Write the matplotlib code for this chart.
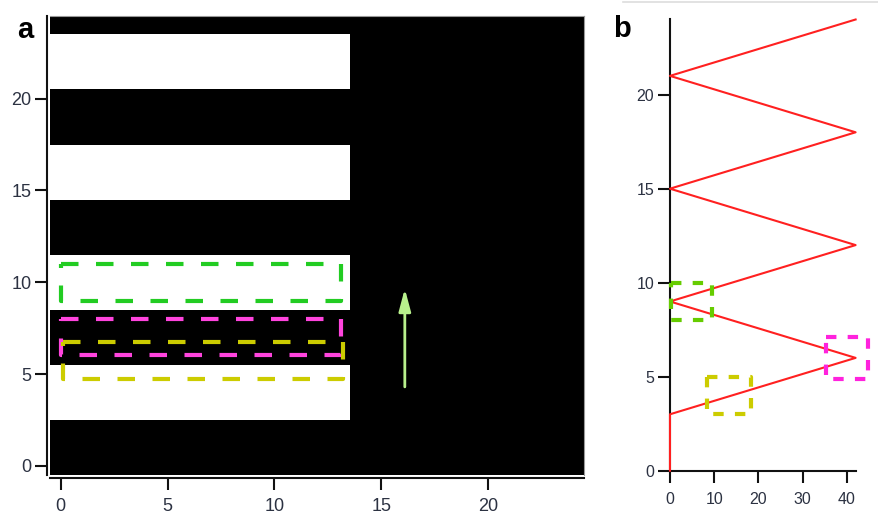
import numpy as np
import matplotlib
matplotlib.use("Agg")
import matplotlib.pyplot as plt
from matplotlib.lines import Line2D

plt.rcParams["font.family"] = ["Liberation Sans", "DejaVu Sans"]

# ── Data ─────────────────────────────────────────────────────────────────────
GRID_N = 25                                   # 25 x 25 pixel pattern
white_rows = [3, 4, 5, 9, 10, 11, 15, 16, 17, 21, 22, 23]
stripe_cols = 14                              # white stripes span columns 0..13

scan_x = [0, 0, 42, 0, 42, 0, 42, 0, 42]
scan_y = [0, 3, 6, 9, 12, 15, 18, 21, 24]

# dashed regions (x0, y0, x1, y1, colour)
boxes_a = [
    (0.0, 9.0, 13.1, 11.0, "#22CC22"),
    (0.0, 6.05, 13.1, 8.0, "#FF44DD"),
    (0.1, 4.75, 13.2, 6.75, "#CCCC00"),
]
boxes_b = [
    (0.2, 8.0, 9.5, 10.0, "#66CC00"),
    (8.3, 3.0, 18.3, 5.0, "#CCCC00"),
    (35.4, 4.9, 44.9, 7.1, "#FF22DD"),
]
arrow_x = 16.1
arrow_y = (4.3, 9.65)

TICK_COLOR = "#2c3242"

pattern = np.zeros((GRID_N, GRID_N))
for r in white_rows:
    pattern[r, :stripe_cols] = 1.0

fig = plt.figure(figsize=(8.79, 5.17), dpi=100)


def draw_box(ax, x0, y0, x1, y1, color, dash):
    ax.plot([x0, x1, x1, x0, x0], [y1, y1, y0, y0, y1], color=color,
            lw=3, linestyle=(0, dash), clip_on=False, zorder=4,
            solid_capstyle="butt", dash_capstyle="butt")


def style_axis(ax, xpad, ypad, size):
    ax.tick_params(length=8.5, width=1.5, color="#111111",
                   labelcolor=TICK_COLOR, labelsize=size)
    ax.tick_params(axis="x", pad=xpad)
    ax.tick_params(axis="y", pad=ypad)
    for side in ("left", "bottom"):
        ax.spines[side].set_linewidth(1.5)
        ax.spines[side].set_color("#111111")


# ── Panel a ──────────────────────────────────────────────────────────────────
ax_a = fig.add_axes([0.0569, 0.0812, 0.6079, 0.8878])
ax_a.imshow(pattern, cmap="gray", vmin=0, vmax=1, origin="lower",
            extent=(-0.5, GRID_N - 0.5, -0.5, GRID_N - 0.5),
            interpolation="nearest", aspect="auto")
ax_a.set_xlim(-0.5, GRID_N - 0.5)
ax_a.set_ylim(-0.5, GRID_N - 0.5)
ax_a.set_xticks([0, 5, 10, 15, 20])
ax_a.set_yticks([0, 5, 10, 15, 20])
style_axis(ax_a, xpad=6, ypad=3, size=13)
for side in ("left", "bottom"):
    ax_a.spines[side].set_position(("outward", 2))
for side in ("top", "right"):
    ax_a.spines[side].set_linewidth(0.8)
    ax_a.spines[side].set_color("#999999")

for x0, y0, x1, y1, c in boxes_a:
    draw_box(ax_a, x0, y0, x1, y1, c, (4.2, 4.2))

ax_a.annotate("", xy=(arrow_x, arrow_y[1]), xytext=(arrow_x, arrow_y[0]),
              arrowprops=dict(arrowstyle="-|>,head_length=0.75,head_width=0.2",
                              mutation_scale=18, color="#B8F08C", lw=2,
                              shrinkA=0, shrinkB=0))

# ── Panel b ──────────────────────────────────────────────────────────────────
ax_b = fig.add_axes([0.7622, 0.0896, 0.2112, 0.8727])
ax_b.plot(scan_x, scan_y, color="#FF2020", lw=1.5, clip_on=False, zorder=3)
ax_b.set_xlim(0, 42)
ax_b.set_ylim(0, 24)
ax_b.set_xticks([0, 10, 20, 30, 40])
ax_b.set_yticks([0, 5, 10, 15, 20])
style_axis(ax_b, xpad=7, ypad=3, size=11.5)
ax_b.spines["top"].set_visible(False)
ax_b.spines["right"].set_visible(False)

for x0, y0, x1, y1, c in boxes_b:
    draw_box(ax_b, x0, y0, x1, y1, c, (2.5, 2.7))

# ── Panel letters and crop line ──────────────────────────────────────────────
fig.text(17 / 879, 1 - 38 / 517, "a", fontsize=21, fontweight="bold",
         ha="left", va="baseline")
fig.text(613 / 879, 1 - 37 / 517, "b", fontsize=21, fontweight="bold",
         ha="left", va="baseline")
fig.add_artist(Line2D([623 / 879, 1.0], [1 - 2 / 517, 1 - 2 / 517],
                      color="#DDDDDD", lw=1.2))

fig.savefig("out.png", dpi=100)
